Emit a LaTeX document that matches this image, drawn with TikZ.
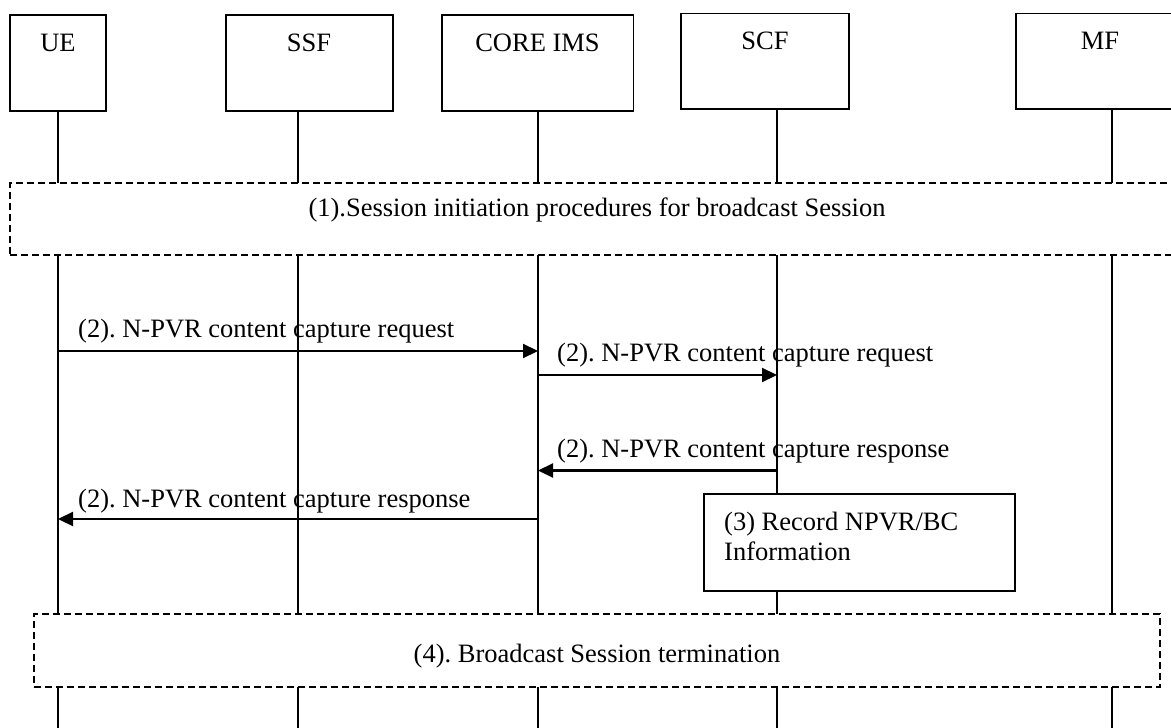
\documentclass[tikz,border=0pt]{standalone}
\usepackage{fontspec}
\setmainfont{Liberation Serif}
\usetikzlibrary{arrows.meta}
\frenchspacing
\begin{document}
\begin{tikzpicture}[x=1pt,y=-1pt,
  actorbox/.style={draw,line width=1.6pt,fill=white,inner sep=0pt},
  lbl/.style={font=\fontsize{26.5}{30.5}\selectfont,inner sep=0pt},
  life/.style={line width=1.4pt},
  phase/.style={draw,line width=2pt,dash pattern=on 7pt off 4pt,fill=white,inner sep=0pt},
  notebox/.style={draw,line width=2pt,fill=white,inner sep=0pt},
  msg/.style={line width=2.2pt,-{Triangle[length=15pt,width=14pt]}}]
\useasboundingbox (0,0) rectangle (1171,728);
\clip (0,0) rectangle (1171,728);

% lifeline end points
\coordinate (ueT) at (58,111);    \coordinate (ueB) at (58,730);
\coordinate (ssfT) at (298,111);  \coordinate (ssfB) at (298,730);
\coordinate (imsT) at (538,111);  \coordinate (imsB) at (538,730);
\coordinate (scfT) at (777,109);  \coordinate (scfB) at (777,730);
\coordinate (mfT) at (1112,109);  \coordinate (mfB) at (1112,730);

% lifelines
\draw[life] (ueT) -- (ueB);
\draw[life] (ssfT) -- (ssfB);
\draw[life] (imsT) -- (imsB);
\draw[life] (scfT) -- (scfB);
\draw[life] (mfT) -- (mfB);

% actor boxes
\node[actorbox,minimum width=96pt,minimum height=96pt] (ue) at (58,63) {};
\node[actorbox,minimum width=167pt,minimum height=96pt] (ssf) at (309.5,63) {};
\node[actorbox,minimum width=191.5pt,minimum height=96pt] (ims) at (537.75,63) {};
\node[actorbox,minimum width=168pt,minimum height=95.7pt] (scf) at (765,61.2) {};
\node[actorbox,minimum width=168pt,minimum height=95.7pt] (mf) at (1100,61.2) {};

\node[lbl,anchor=base] (ueL) at (58,51) {UE};
\node[lbl,anchor=base] (ssfL) at (309,51) {SSF};
\node[lbl,anchor=base] (imsL) at (537.5,51) {CORE IMS};
\node[lbl,anchor=base] (scfL) at (765,49) {SCF};
\node[lbl,anchor=base] (mfL) at (1100,49) {MF};

% phase 1
\node[phase,minimum width=1175pt,minimum height=72pt] (ph1) at (597.5,219) {};
\node[lbl,anchor=base] (ph1L) at (597,216) {(1).Session initiation procedures for broadcast Session};

% messages
\coordinate (m1a) at (58,351);   \coordinate (m1b) at (538,351);
\coordinate (m2a) at (538,375);  \coordinate (m2b) at (777,375);
\coordinate (m3a) at (777,470.5);\coordinate (m3b) at (538,470.5);
\coordinate (m4a) at (538,519);  \coordinate (m4b) at (58,519);

\draw[msg] (m1a) -- (m1b);
\draw[msg] (m2a) -- (m2b);
\draw[msg] (m3a) -- (m3b);
\draw[msg] (m4a) -- (m4b);

\node[lbl,anchor=base west] (m1L) at (78,337.5) {(2). N-PVR content capture request};
\node[lbl,anchor=base west] (m2L) at (557,361.5) {(2). N-PVR content capture request};
\node[lbl,anchor=base west] (m3L) at (557,457) {(2). N-PVR content capture response};
\node[lbl,anchor=base west] (m4L) at (78,507.5) {(2). N-PVR content capture response};

% record box
\node[notebox,minimum width=311pt,minimum height=97pt] (rec) at (859.5,542.5) {};
\node[lbl,anchor=base west] (recL1) at (724,530) {(3) Record NPVR/BC};
\node[lbl,anchor=base west] (recL2) at (724,560) {Information};

% phase 4
\node[phase,minimum width=1126pt,minimum height=73pt] (ph4) at (597,650.5) {};
\node[lbl,anchor=base] (ph4L) at (597,662) {(4). Broadcast Session termination};
\end{tikzpicture}
\end{document}
